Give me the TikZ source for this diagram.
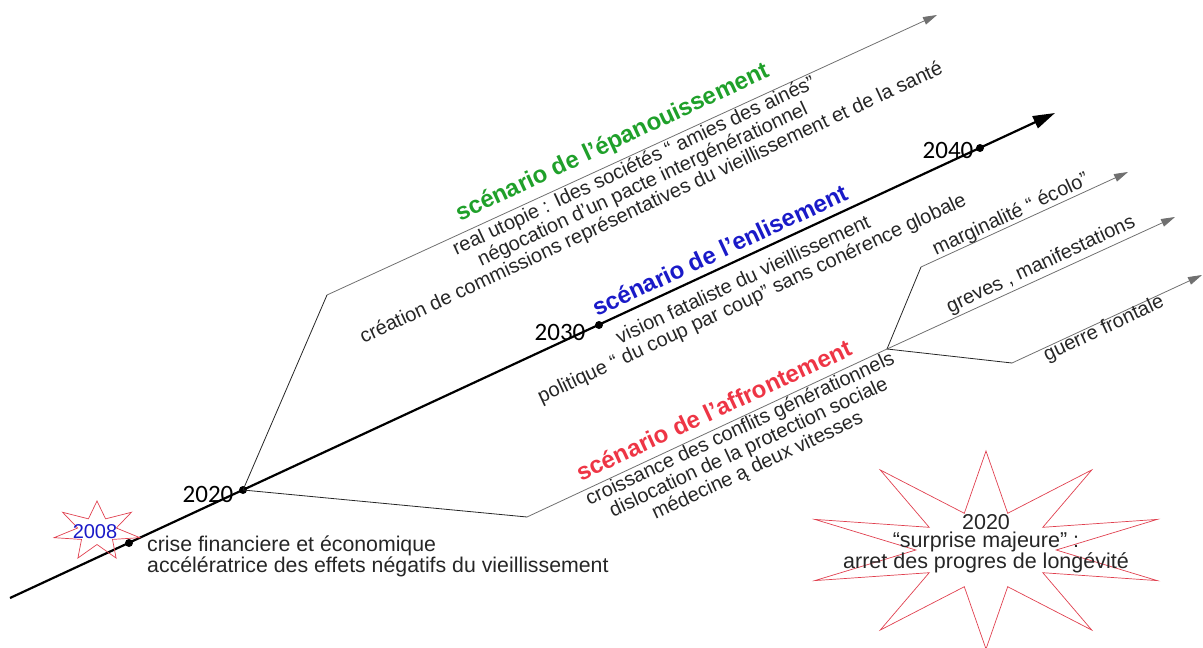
\documentclass[tikz,border=0pt]{standalone}
\usepackage{fontspec}
\setmainfont{Liberation Sans}
\newfontfamily\yearfont{Carlito}
\usetikzlibrary{arrows.meta}
\definecolor{grow}{HTML}{1FA02A}
\definecolor{stuck}{HTML}{1A1AC8}
\definecolor{clash}{HTML}{EE3545}
\definecolor{starline}{HTML}{E0404F}
\definecolor{branch}{HTML}{707070}
\definecolor{txt}{HTML}{262626}

\tikzset{
  dot/.style={circle, fill=black, inner sep=0pt, minimum size=8pt},
  year/.style={inner sep=0pt, font=\yearfont\fontsize{25}{28}\selectfont},
  title/.style={rotate=25, inner sep=0pt, font=\bfseries\fontsize{24}{26}\selectfont},
  note/.style={rotate=25, inner sep=0pt, align=center, text=txt, font=\fontsize{20}{20.5}\selectfont},
  fork/.style={draw=black!85, line width=0.8pt},
  ray/.style={draw=branch, line width=0.8pt, -{Triangle[length=14pt,width=8pt]}},
}

\begin{document}
\begin{tikzpicture}[x=1pt, y=-1pt]
  \useasboundingbox (0,0) rectangle (1203,648);

  % Time line
  \coordinate (t0) at (10,598);
  \coordinate (t1) at (1055,113);
  \draw[line width=2.2pt, -{Triangle[length=22pt,width=13pt]}] (t0) -- (t1);
  \node[dot] (d2008) at (129,543) {};
  \node[dot] (d2020) at (243,490) {};
  \node[dot] (d2030) at (599,325) {};
  \node[dot] (d2040) at (980,148) {};
  \node[year] (y2020) at (208,494) {2020};
  \node[year] (y2030) at (560,332) {2030};
  \node[year] (y2040) at (948,150) {2040};

  % Branches
  \coordinate (up) at (327,295);
  \coordinate (upend) at (937,15);
  \coordinate (low) at (527,517);
  \coordinate (split) at (887,349);
  \coordinate (eco) at (921,267);
  \coordinate (ecoend) at (1128,172);
  \coordinate (strikeend) at (1175,217);
  \coordinate (war) at (1012,363);
  \coordinate (warend) at (1202,275);
  \draw[fork] (d2020.center) -- (up);
  \draw[ray] (up) -- (upend);
  \draw[fork] (d2020.center) -- (low);
  \draw[draw=branch, line width=0.8pt] (low) -- (split);
  \draw[fork] (split) -- (eco);
  \draw[ray] (eco) -- (ecoend);
  \draw[ray] (split) -- (strikeend);
  \draw[fork] (split) -- (war);
  \draw[ray] (war) -- (warend);

  % Scenarios
  \node[title, text=grow] (grow) at (613,143) {scénario de l'épanouissement};
  \node[note] (grownote) at (643,185) {real utopie : Ides sociétés “ amies des ainés”\\négocation d'un pacte intergénérationnel\\création de commissions représentatives du vieillissement et de la santé};
  \node[title, text=stuck] (stuck) at (720,250) {scénario de l'enlisement};
  \node[note] (stucknote) at (748,290) {vision fataliste du vieillissement\\politique “ du coup par coup” sans conérence globale};
  \node[title, text=clash] (clash) at (714,410) {scénario de l'affrontement};
  \node[note] (clashnote) at (749,448) {croissance des conflits générationnels\\dislocation de la protection sociale\\médecine ą deux vitesses};
  \node[note] (econote) at (1011,215) {marginalité “ écolo”};
  \node[note] (strikenote) at (1041,265) {greves , manifestations};
  \node[note] (warnote) at (1104,329) {guerre frontale};

  % 2008 crisis
  \coordinate (s2008) at (97,531);
  \draw[starline, line width=0.7pt, shift={(s2008)}]
    plot[samples at={0,...,13}] ({44*cos(90+\x*360/14)*(1-0.55*isodd(\x))}, {-30*sin(90+\x*360/14)*(1-0.55*isodd(\x))}) -- cycle;
  \node[inner sep=0pt, text=stuck, font=\fontsize{20}{20}\selectfont] (n2008) at (95,532) {2008};
  \node[anchor=north west, inner sep=0pt, align=left, text=txt, font=\fontsize{21.3}{17}\selectfont] (crise) at (147,536) {crise financiere et économique\\accélératrice des effets négatifs du vieillissement};

  % Surprise
  \coordinate (sbig) at (986,550);
  \draw[starline, line width=0.7pt, shift={(sbig)}]
    plot[samples at={0,...,19}] ({180*cos(90+\x*18)*(1-0.61*isodd(\x))}, {-99*sin(90+\x*18)*(1-0.61*isodd(\x))}) -- cycle;
  \node[inner sep=0pt, align=center, text=txt, font=\fontsize{21.5}{17.5}\selectfont] (surprise) at (986,544) {2020\\“surprise majeure" :\\arret des progres de longévité};
\end{tikzpicture}
\end{document}
